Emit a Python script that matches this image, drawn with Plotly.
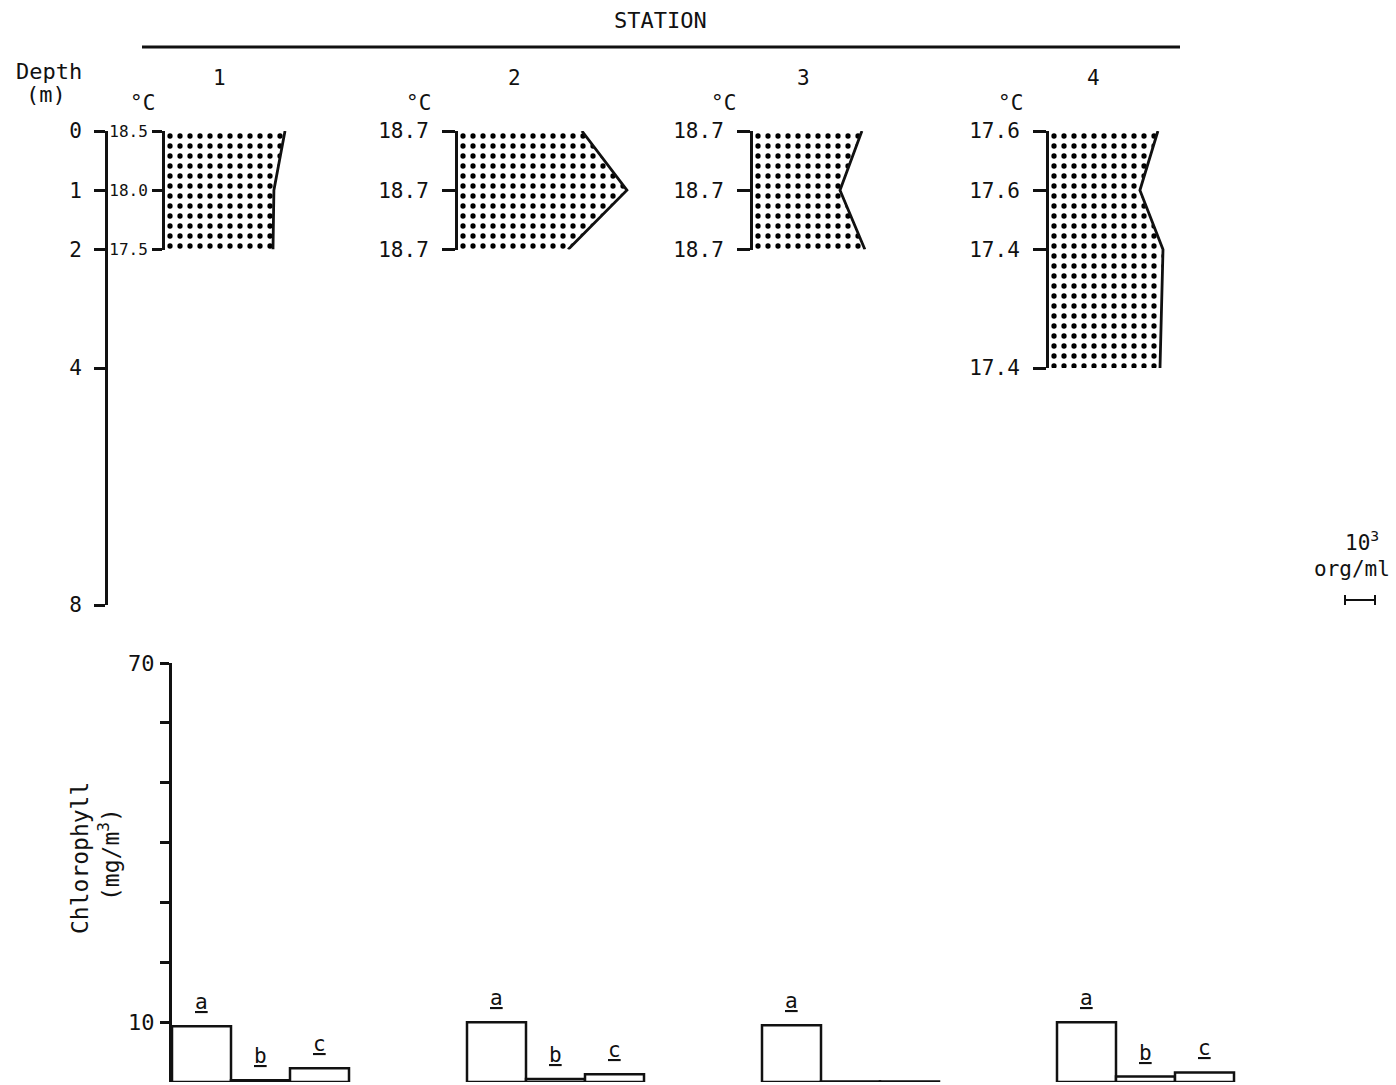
import plotly.graph_objects as go

# ---------------- data ----------------
stations = ["1", "2", "3", "4"]

# sampled depths (m), water temperature labels (°C) and organism density (10^3 org/ml)
sample_depths = [[0, 1, 2], [0, 1, 2], [0, 1, 2], [0, 1, 2, 4]]
temperatures = [["18.5", "18.0", "17.5"],
                ["18.7", "18.7", "18.7"],
                ["18.7", "18.7", "18.7"],
                ["17.6", "17.6", "17.4", "17.4"]]
density = [[4.0, 3.63, 3.6],
           [4.13, 5.63, 3.67],
           [3.63, 2.9, 3.73],
           [3.63, 3.03, 3.8, 3.7]]

depth_ticks = [0, 1, 2, 4, 8]

# chlorophyll (mg/m3) per fraction a, b, c at each station
chl_fractions = ["a", "b", "c"]
chl_a = [9.3, 10.0, 9.5, 10.0]
chl_b = [0.3, 0.5, 0.1, 0.9]
chl_c = [2.3, 1.3, 0.1, 1.6]
chl_labelled = [[True, True, True], [True, True, True],
                [True, False, False], [True, True, True]]
chl_ticks = [10, 20, 30, 40, 50, 60, 70]
chl_ticktext = ["10", "", "", "", "", "", "70"]

# ---------------- layout constants ----------------
W, H = 1396, 1085
FONT = "DejaVu Sans Mono"
INK = "#111111"


def px(p):
    return p / W


def py(p):
    return 1 - p / H


depth_top_px, depth_bottom_px, depth_max = 131, 605, 8
px_per_m = (depth_bottom_px - depth_top_px) / depth_max
station_x0_px = [165, 458, 753, 1049]
px_per_unit = 30          # pixels per 10^3 org/ml
station_span_px = 270

chl_x0_px, chl_top_px, chl_bottom_px, chl_max = 172, 663, 1082, 70
slot_px = 59
slots_per_station = 5


def label(text, x, y, size=21, **kw):
    """Paper-positioned text, centred on (x, y) given in pixels."""
    d = dict(text=text, xref="paper", yref="paper", x=px(x), y=py(y),
             xanchor="center", yanchor="middle", showarrow=False,
             font=dict(size=size))
    d.update(kw)
    return d


fig = go.Figure()
layout = dict(
    width=W, height=H, autosize=False,
    margin=dict(l=0, r=0, t=0, b=0, pad=0, autoexpand=False),
    paper_bgcolor="white", plot_bgcolor="white",
    showlegend=False,
    font=dict(family=FONT, size=21, color=INK),
)

# depth axis on the left
layout["xaxis"] = dict(domain=[px(108), px(150)], range=[0, 1], visible=False,
                       automargin=False)
layout["yaxis"] = dict(
    domain=[py(depth_bottom_px), py(depth_top_px)], range=[depth_max, 0],
    anchor="x", showline=True, linewidth=3, linecolor=INK,
    ticks="outside", ticklen=11, tickwidth=2.5, tickcolor=INK,
    tickvals=depth_ticks, ticktext=[str(t) for t in depth_ticks],
    showgrid=False, zeroline=False, tickfont=dict(size=21),
    ticklabelstandoff=8, automargin=False,
)
fig.add_trace(go.Scatter(x=[None], y=[None], xaxis="x", yaxis="y",
                         mode="markers", hoverinfo="skip"))

annotations = []

# stippled density profiles, one subplot per station
for i, name in enumerate(stations):
    k = i + 2
    x0 = station_x0_px[i]
    dmax = max(sample_depths[i])
    layout[f"xaxis{k}"] = dict(
        domain=[px(x0), px(x0 + station_span_px)],
        range=[0, station_span_px / px_per_unit], visible=False,
        automargin=False,
    )
    layout[f"yaxis{k}"] = dict(
        domain=[py(depth_top_px + dmax * px_per_m), py(depth_top_px)],
        range=[dmax, 0], anchor=f"x{k}",
        showline=True, linewidth=3, linecolor=INK,
        ticks="outside", ticklen=10 if i == 0 else 13, tickwidth=2.5,
        tickcolor=INK,
        tickvals=sample_depths[i], ticktext=temperatures[i],
        showgrid=False, zeroline=False,
        tickfont=dict(size=16 if i == 0 else 21),
        ticklabelstandoff=1 if i == 0 else 9, automargin=False,
    )
    fig.add_trace(go.Scatter(
        x=density[i], y=sample_depths[i], xaxis=f"x{k}", yaxis=f"y{k}",
        mode="lines", line=dict(color=INK, width=2.8),
        fill="tozerox", fillcolor="white",
        fillpattern=dict(shape=".", fgcolor="black", fgopacity=1,
                         bgcolor="white", size=10, solidity=0.22),
        hoverinfo="skip",
    ))
    # station number and temperature unit
    annotations.append(dict(text=name, xref=f"x{k} domain", x=0,
                            xshift=[54, 56, 50, 44][i],
                            yref="paper", y=py(78), xanchor="center",
                            yanchor="middle", showarrow=False,
                            font=dict(size=21)))
    annotations.append(dict(text="°C", xref=f"x{k} domain", x=0,
                            xshift=[-23, -40, -30, -39][i],
                            yref="paper", y=py(103), xanchor="center",
                            yanchor="middle", showarrow=False,
                            font=dict(size=21)))

# chlorophyll bars
layout["xaxis6"] = dict(domain=[px(chl_x0_px), 1],
                        range=[0, (W - chl_x0_px) / slot_px], visible=False,
                        automargin=False)
layout["yaxis6"] = dict(
    domain=[py(chl_bottom_px), py(chl_top_px)], range=[0, chl_max],
    anchor="x6", showline=True, linewidth=3, linecolor=INK,
    ticks="outside", ticklen=9, tickwidth=2.5, tickcolor=INK,
    tickvals=chl_ticks, ticktext=chl_ticktext,
    showgrid=False, zeroline=False, tickfont=dict(size=22),
    ticklabelstandoff=1, automargin=False,
)
for j, (frac, vals) in enumerate(zip(chl_fractions, [chl_a, chl_b, chl_c])):
    xs = [slots_per_station * i + j + 0.5 for i in range(len(stations))]
    fig.add_trace(go.Bar(
        x=xs, y=vals, width=1, xaxis="x6", yaxis="y6",
        marker=dict(color="white", line=dict(color=INK, width=2.5)),
        hoverinfo="skip",
    ))
    for i, (xv, v) in enumerate(zip(xs, vals)):
        if chl_labelled[i][j]:
            annotations.append(dict(text=f"<u>{frac}</u>", xref="x6", yref="y6",
                                    x=xv, y=v, xanchor="center",
                                    yanchor="bottom", yshift=10,
                                    showarrow=False, font=dict(size=21)))

# headings and legend text
annotations += [
    label("STATION", 660, 20, size=22),
    label("Depth", 49, 72, size=22),
    label("(m)", 46, 95, size=22),
    label("Chlorophyll", 80, 858, size=23, textangle=-90),
    label("(mg/m<sup>3</sup>)", 109, 855, size=23, textangle=-90),
    label("10<sup>3</sup>", 1362, 541, size=21),
    label("org/ml", 1352, 569, size=21),
]
layout["annotations"] = annotations

# rule under the heading and the 10^3 org/ml scale bar
bar_x0 = 1345
bar_x1 = bar_x0 + px_per_unit
layout["shapes"] = [
    dict(type="line", xref="paper", yref="paper", x0=px(142), x1=px(1180),
         y0=py(47), y1=py(47), line=dict(color=INK, width=3)),
    dict(type="line", xref="paper", yref="paper", x0=px(bar_x0), x1=px(bar_x1),
         y0=py(600), y1=py(600), line=dict(color=INK, width=2)),
    dict(type="line", xref="paper", yref="paper", x0=px(bar_x0), x1=px(bar_x0),
         y0=py(595), y1=py(605), line=dict(color=INK, width=2)),
    dict(type="line", xref="paper", yref="paper", x0=px(bar_x1), x1=px(bar_x1),
         y0=py(595), y1=py(605), line=dict(color=INK, width=2)),
]

fig.update_layout(**layout)
fig.write_html("out.html")
